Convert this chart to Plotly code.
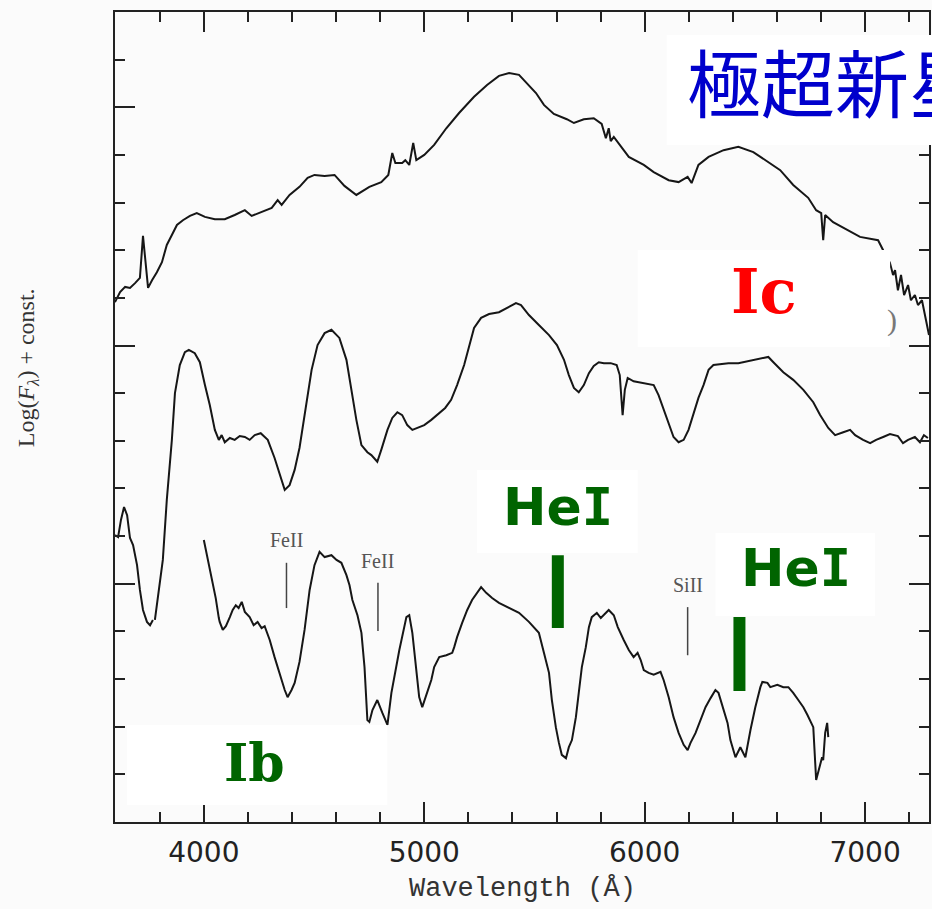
import plotly.graph_objects as go

# ---------------- data ----------------
# Top spectrum (hypernova, Ic-BL)
hn_wl = [3597, 3620, 3643, 3665, 3688, 3710, 3724, 3738, 3747, 3765, 3787, 3810, 3832, 3855, 3878,
         3905, 3937, 3968, 4005, 4050, 4095, 4140, 4186, 4217, 4262, 4308, 4335, 4353, 4389, 4434,
         4471, 4502, 4548, 4593, 4638, 4692, 4751, 4805, 4837, 4855, 4869, 4900, 4914, 4932, 4950,
         4964, 5000, 5045, 5100, 5158, 5226, 5285, 5339, 5385, 5430, 5475, 5507, 5543, 5588, 5647,
         5679, 5724, 5769, 5805, 5824, 5837, 5846, 5860, 5882, 5928, 5996, 6041, 6109, 6154, 6195,
         6213, 6244, 6290, 6358, 6425, 6493, 6561, 6615, 6674, 6742, 6778, 6801, 6810, 6819, 6855,
         6923, 6977, 7059, 7082, 7104, 7113, 7127, 7136, 7149, 7163, 7177, 7195, 7208, 7226, 7240,
         7258, 7276, 7290]
hn_flux = [10.91, 11.12, 11.23, 11.21, 11.31, 11.42, 12.30, 11.58, 11.21, 11.37, 11.54, 11.75, 12.11, 12.32, 12.53,
           12.63, 12.72, 12.78, 12.70, 12.65, 12.65, 12.74, 12.84, 12.72, 12.80, 12.89, 13.05, 12.95, 13.16, 13.33,
           13.52, 13.58, 13.56, 13.58, 13.35, 13.16, 13.33, 13.43, 13.58, 14.04, 13.83, 13.83, 13.89, 13.79, 14.25,
           13.89, 14.00, 14.21, 14.56, 14.88, 15.22, 15.47, 15.66, 15.72, 15.68, 15.47, 15.30, 15.05, 14.86, 14.75,
           14.67, 14.75, 14.77, 14.65, 14.35, 14.56, 14.29, 14.38, 14.25, 13.96, 13.79, 13.64, 13.47, 13.43, 13.54,
           13.41, 13.79, 13.96, 14.10, 14.17, 14.06, 13.85, 13.68, 13.37, 13.10, 12.84, 12.78, 12.21, 12.74, 12.59,
           12.42, 12.28, 12.21, 12.00, 11.69, 11.73, 11.48, 11.58, 11.16, 11.48, 11.06, 11.27, 10.95, 11.06, 10.85,
           10.95, 10.54, 10.22]

# Middle spectrum (normal Ic)
ic_wl = [3778, 3801, 3814, 3832, 3855, 3869, 3891, 3914, 3932, 3959, 3982, 4005, 4027, 4050, 4068,
         4081, 4095, 4118, 4140, 4163, 4186, 4208, 4231, 4258, 4290, 4321, 4344, 4367, 4389, 4412,
         4434, 4466, 4489, 4516, 4548, 4579, 4615, 4647, 4670, 4692, 4715, 4742, 4760, 4787, 4805,
         4833, 4855, 4878, 4900, 4923, 4946, 4968, 5000, 5032, 5068, 5095, 5122, 5149, 5181, 5204,
         5226, 5258, 5294, 5339, 5385, 5416, 5439, 5475, 5520, 5566, 5602, 5634, 5656, 5679, 5701,
         5724, 5747, 5769, 5792, 5815, 5846, 5873, 5887, 5900, 5910, 5923, 5950, 5996, 6041, 6063,
         6086, 6109, 6131, 6154, 6177, 6199, 6222, 6244, 6267, 6290, 6312, 6344, 6380, 6425, 6471,
         6516, 6561, 6584, 6629, 6674, 6720, 6765, 6796, 6833, 6864, 6901, 6932, 6955, 6991, 7023,
         7050, 7082, 7113, 7149, 7172, 7195, 7226, 7249, 7267, 7285]
ic_flux = [4.24, 5.02, 5.50, 6.76, 8.02, 9.00, 9.59, 9.86, 9.91, 9.84, 9.65, 9.17, 8.75, 8.23, 8.02,
           8.12, 7.97, 8.06, 8.02, 8.10, 8.08, 8.02, 8.12, 8.16, 8.02, 7.64, 7.28, 6.97, 7.07, 7.39,
           7.85, 8.86, 9.49, 10.01, 10.26, 10.33, 10.16, 9.70, 9.07, 8.44, 7.91, 7.76, 7.70, 7.56, 7.81,
           8.23, 8.48, 8.60, 8.54, 8.33, 8.23, 8.27, 8.33, 8.44, 8.58, 8.69, 8.86, 9.17, 9.59, 10.01,
           10.37, 10.58, 10.66, 10.70, 10.81, 10.89, 10.85, 10.64, 10.43, 10.22, 10.01, 9.70, 9.38, 9.11, 9.02,
           9.17, 9.42, 9.57, 9.65, 9.63, 9.63, 9.59, 9.38, 8.54, 9.07, 9.32, 9.25, 9.21, 9.17, 8.96,
           8.65, 8.33, 8.08, 7.97, 8.02, 8.23, 8.58, 8.90, 9.17, 9.49, 9.59, 9.61, 9.63, 9.63, 9.67,
           9.72, 9.76, 9.65, 9.44, 9.28, 9.07, 8.81, 8.54, 8.27, 8.12, 8.18, 8.23, 8.12, 8.02, 7.95,
           8.02, 8.08, 8.14, 8.10, 7.95, 8.02, 8.08, 7.97, 8.12, 8.06]

# Bottom spectrum (Ib): blue piece and main piece
ib_blue_wl = [3597, 3611, 3624, 3638, 3652, 3665, 3679, 3697, 3710, 3724, 3742, 3756, 3769]
ib_blue_flux = [6.02, 5.98, 6.34, 6.61, 6.44, 5.96, 5.81, 5.39, 4.87, 4.45, 4.20, 4.13, 4.24]

ib_wl = [4000, 4009, 4027, 4041, 4054, 4068, 4072, 4086, 4100, 4118, 4131, 4145, 4158, 4172, 4186,
         4208, 4226, 4244, 4262, 4276, 4299, 4321, 4344, 4367, 4380, 4398, 4412, 4434, 4457, 4480,
         4502, 4525, 4548, 4579, 4602, 4624, 4647, 4661, 4674, 4697, 4715, 4729, 4742, 4751, 4765,
         4787, 4810, 4833, 4851, 4873, 4887, 4919, 4932, 4946, 4964, 4977, 4991, 5014, 5032, 5045,
         5068, 5100, 5127, 5136, 5149, 5172, 5195, 5217, 5258, 5281, 5308, 5339, 5385, 5430, 5475,
         5507, 5520, 5543, 5566, 5579, 5597, 5611, 5624, 5643, 5656, 5670, 5688, 5701, 5715, 5733,
         5747, 5760, 5783, 5801, 5815, 5837, 5860, 5878, 5905, 5928, 5950, 5968, 5982, 5996, 6018,
         6041, 6072, 6086, 6109, 6131, 6154, 6177, 6195, 6208, 6231, 6253, 6276, 6299, 6321, 6335,
         6353, 6376, 6389, 6412, 6434, 6457, 6480, 6502, 6525, 6534, 6557, 6570, 6602, 6629, 6652,
         6674, 6697, 6720, 6738, 6751, 6765, 6778, 6787, 6805, 6810, 6819, 6828, 6833]
ib_flux = [5.92, 5.71, 5.29, 4.97, 4.70, 4.28, 4.20, 4.03, 4.11, 4.30, 4.45, 4.55, 4.49, 4.62, 4.41,
           4.30, 4.13, 4.20, 4.07, 4.11, 3.82, 3.46, 3.09, 2.77, 2.62, 2.77, 2.92, 3.36, 4.03, 4.87,
           5.39, 5.67, 5.56, 5.60, 5.50, 5.44, 5.18, 4.97, 4.66, 4.34, 3.97, 3.25, 2.14, 2.10, 2.35,
           2.56, 2.29, 2.04, 2.71, 3.25, 3.61, 4.30, 4.34, 3.97, 3.25, 2.62, 2.41, 2.71, 2.98, 3.25,
           3.46, 3.50, 3.55, 3.67, 3.88, 4.18, 4.45, 4.66, 4.93, 4.81, 4.70, 4.60, 4.49, 4.39, 4.20,
           4.03, 3.97, 3.55, 3.13, 2.56, 1.99, 1.66, 1.41, 1.34, 1.57, 1.72, 2.20, 2.71, 3.25, 3.67,
           4.09, 4.30, 4.39, 4.28, 4.34, 4.45, 4.34, 4.09, 3.82, 3.61, 3.46, 3.55, 3.40, 3.19, 3.13,
           3.09, 3.15, 2.98, 2.62, 2.20, 1.87, 1.62, 1.51, 1.66, 1.87, 2.14, 2.41, 2.60, 2.77, 2.71,
           2.41, 2.08, 1.72, 1.36, 1.57, 1.36, 1.93, 2.41, 2.83, 2.94, 2.92, 2.83, 2.88, 2.83, 2.83,
           2.71, 2.56, 2.41, 2.25, 2.14, 1.99, 0.88, 1.03, 1.36, 1.30, 1.87, 2.08, 1.78]

# Line identifications
ion_labels = ["FeII", "FeII", "SiII"]
ion_wl = [4375, 4790, 6195]
ion_y_top = [5.44, 5.02, 4.51]
ion_y_bot = [4.49, 4.01, 3.50]
ion_label_y = [5.92, 5.48, 4.97]

hei_wl = [5606, 6430]
hei_y_top = [5.60, 4.30]
hei_y_bot = [4.07, 2.75]

x_tick_vals = [4000, 5000, 6000, 7000]
x_range = [3597, 7290]
y_range = [0, 17]

# ---------------- layout helpers (pixel -> paper) ----------------
W, H = 932, 909
L, R, T, B = 115, 1, 12, 87
PW, PH = W - L - R, H - T - B


def pxx(p):
    return (p - L) / PW


def pxy(p):
    return (H - B - p) / PH


LINE = "#161616"
GREEN = "#006400"

fig = go.Figure()
fig.add_trace(go.Scatter(x=hn_wl, y=hn_flux, mode="lines",
                         line=dict(color=LINE, width=2), hoverinfo="skip", showlegend=False))
fig.add_trace(go.Scatter(x=ic_wl, y=ic_flux, mode="lines",
                         line=dict(color=LINE, width=2), hoverinfo="skip", showlegend=False))
fig.add_trace(go.Scatter(x=ib_blue_wl + [None] + ib_wl, y=ib_blue_flux + [None] + ib_flux, mode="lines",
                         line=dict(color=LINE, width=2), hoverinfo="skip", showlegend=False,
                         connectgaps=False))

# ion marker ticks
for wl, y0, y1 in zip(ion_wl, ion_y_bot, ion_y_top):
    fig.add_trace(go.Scatter(x=[wl, wl], y=[y0, y1], mode="lines",
                             line=dict(color="#444444", width=1.5), hoverinfo="skip", showlegend=False))
for lab, wl, yl in zip(ion_labels, ion_wl, ion_label_y):
    fig.add_annotation(x=wl, y=yl, xref="x", yref="y", text=lab, showarrow=False,
                       font=dict(family="Liberation Serif", size=20, color="#555555"))

# white cover boxes (pixel rectangles on the picture)
boxes = [(668, 35, 960, 145), (639, 250, 892, 347), (478, 470, 639, 553),
         (717, 533, 877, 616), (127, 725, 388, 805)]
for x0, y0, x1, y1 in boxes:
    fig.add_shape(type="rect", xref="paper", yref="paper",
                  x0=pxx(x0), x1=pxx(x1), y0=pxy(y1), y1=pxy(y0),
                  fillcolor="white", line=dict(width=0), layer="above")

# HeI bars
for wl, y0, y1 in zip(hei_wl, hei_y_bot, hei_y_top):
    fig.add_shape(type="line", xref="x", yref="y", x0=wl, x1=wl, y0=y0, y1=y1,
                  line=dict(color=GREEN, width=12), layer="above")

# big labels
fig.add_annotation(x=pxx(686), y=pxy(80), xref="paper", yref="paper", text="極超新星",
                   xanchor="left", yanchor="middle", showarrow=False,
                   font=dict(family="Noto Sans CJK JP", size=74, color="#0000CC"))
fig.add_annotation(x=pxx(766), y=pxy(291), xref="paper", yref="paper", text="<b>Ic</b>",
                   xanchor="center", yanchor="middle", showarrow=False,
                   font=dict(family="DejaVu Serif", size=61, color="#FF0000"))
fig.add_annotation(x=pxx(255), y=pxy(762), xref="paper", yref="paper", text="<b>Ib</b>",
                   xanchor="center", yanchor="middle", showarrow=False,
                   font=dict(family="DejaVu Serif", size=52, color=GREEN))
for cx, cy in [(559, 507), (798, 568)]:
    fig.add_annotation(x=pxx(cx), y=pxy(cy), xref="paper", yref="paper",
                       text="<b>He<span style='font-family:DejaVu Sans Mono'>I</span></b>",
                       xanchor="center", yanchor="middle", showarrow=False,
                       font=dict(family="DejaVu Sans", size=52, color=GREEN))
fig.add_annotation(x=pxx(894), y=pxy(320), xref="paper", yref="paper", text=")",
                   xanchor="center", yanchor="middle", showarrow=False,
                   font=dict(family="Liberation Serif", size=30, color="#777777"))

# axis titles as annotations
fig.add_annotation(x=pxx(524), y=pxy(889), xref="paper", yref="paper", text="Wavelength (Å)",
                   xanchor="center", yanchor="middle", showarrow=False,
                   font=dict(family="Liberation Mono", size=27, color="#333333"))
fig.add_annotation(x=pxx(28), y=pxy(368), xref="paper", yref="paper",
                   text="Log(<i>F</i><sub><i>λ</i></sub>) + const.", textangle=-90,
                   xanchor="center", yanchor="middle", showarrow=False,
                   font=dict(family="Liberation Serif", size=24, color="#333333"))

axis_common = dict(showline=True, linecolor="#222222", linewidth=1.6, mirror="ticks",
                   ticks="inside", ticklen=20, tickwidth=1.5, tickcolor="#222222",
                   showgrid=False, zeroline=False)
fig.update_xaxes(range=x_range, tickvals=x_tick_vals, ticktext=[str(v) for v in x_tick_vals],
                 minor=dict(dtick=200, tick0=0, ticks="inside", ticklen=10, tickwidth=1.5,
                            tickcolor="#222222", showgrid=False),
                 tickfont=dict(family="DejaVu Sans", size=28, color="#222222"),
                 ticklabelstandoff=5, **axis_common)
fig.update_yaxes(range=y_range, tick0=0, dtick=5, showticklabels=False,
                 minor=dict(dtick=1, tick0=0, ticks="inside", ticklen=10, tickwidth=1.5,
                            tickcolor="#222222", showgrid=False),
                 **axis_common)

fig.update_layout(width=W, height=H, margin=dict(l=L, r=R, t=T, b=B, pad=0),
                  paper_bgcolor="#fbfbfb", plot_bgcolor="#fbfbfb", showlegend=False)

fig.write_html("out.html", config={"displayModeBar": False},
               post_script="document.body.style.margin='0';document.body.style.background='#fbfbfb';")
